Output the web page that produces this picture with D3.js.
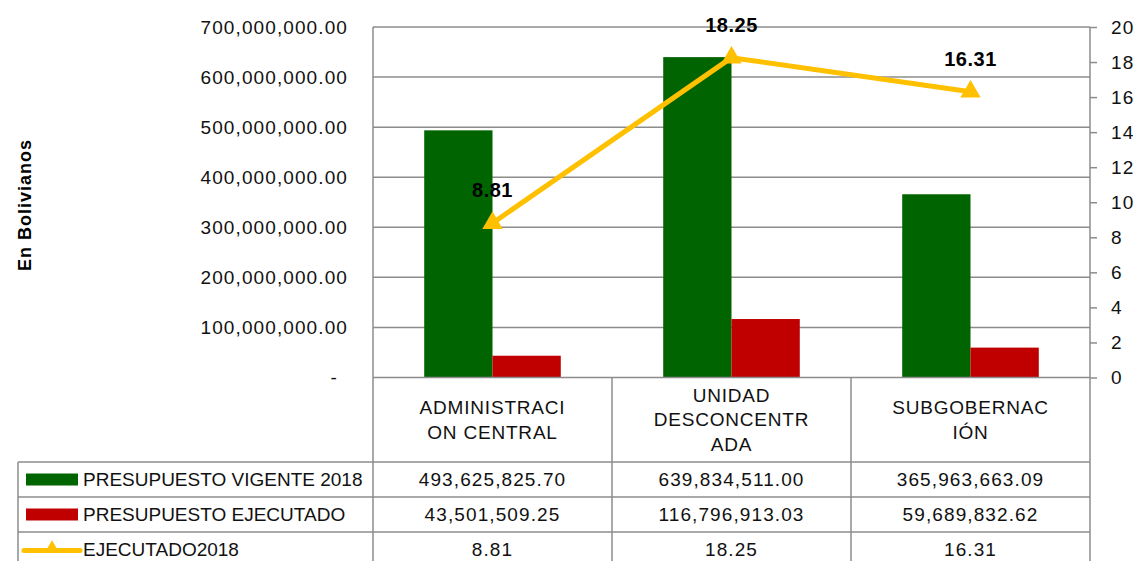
<!DOCTYPE html>
<html><head><meta charset="utf-8">
<script src="https://cdn.jsdelivr.net/npm/d3@7"></script>
<style>
html,body{margin:0;padding:0;background:#fff;}
svg{display:block;font-family:"Liberation Sans",Arial,sans-serif;}
</style></head>
<body><svg id="chart" width="1138" height="561"></svg>
<script>
const categories = [["ADMINISTRACI","ON CENTRAL"],["UNIDAD","DESCONCENTR","ADA"],["SUBGOBERNAC","IÓN"]];
const categoryKeys = ["ADMINISTRACION CENTRAL","UNIDAD DESCONCENTRADA","SUBGOBERNACIÓN"];
const seriesNames = ["PRESUPUESTO VIGENTE 2018","PRESUPUESTO EJECUTADO","EJECUTADO2018"];
const vigente = [493625825.70, 639834511.00, 365963663.09];
const ejecutado = [43501509.25, 116796913.03, 59689832.62];
const porcentaje = [8.81, 18.25, 16.31];
const leftTicks = [0,100000000,200000000,300000000,400000000,500000000,600000000,700000000];
const rightTicks = [0,2,4,6,8,10,12,14,16,18,20];
const colors = ["#006400","#C00000","#FFC000"];

const svg = d3.select("#chart");
const L = 373, R = 1090, T = 27, B = 377.5;
const grid = "#8c8c8c";
const fs = 19;
const numLS = 1.1;

const x0 = d3.scaleBand().domain(categoryKeys).range([L, R]).paddingInner(0).paddingOuter(0);
const x1 = d3.scaleBand().domain(["v","e"]).range([0, x0.bandwidth()]).paddingInner(0).paddingOuter(0.75);
const yL = d3.scaleLinear().domain([0, 700000000]).range([B, T]);
const yR = d3.scaleLinear().domain([0, 20]).range([B, T]);

// gridlines
svg.append("g").selectAll("line").data(leftTicks.slice(1)).join("line")
  .attr("x1", L).attr("x2", R).attr("y1", d => yL(d)).attr("y2", d => yL(d))
  .attr("stroke", grid).attr("stroke-width", 1.5);

// left axis labels
const fmt = d3.format(",.2f");
svg.append("g").selectAll("text").data(leftTicks).join("text")
  .attr("x", d => d === 0 ? 338 : 348).attr("y", d => yL(d))
  .attr("dy", "0.35em").attr("text-anchor", "end")
  .attr("font-size", fs).attr("fill", "#111").attr("letter-spacing", numLS)
  .text(d => d === 0 ? "-" : fmt(d));

// right axis
const rAxis = d3.axisRight(yR).tickValues(rightTicks).tickSize(7).tickPadding(14).tickFormat(d3.format("d"));
const rg = svg.append("g").attr("transform", `translate(${R},0)`).call(rAxis);
rg.select(".domain").attr("stroke", grid).attr("stroke-width", 1.5).attr("d", `M0,${T}V${B}`);
rg.selectAll(".tick line").attr("stroke", grid).attr("stroke-width", 1.5);
rg.selectAll(".tick text").attr("font-size", fs).attr("fill", "#111").attr("letter-spacing", numLS)
  .attr("font-family", "Liberation Sans, Arial, sans-serif");

// bars
const bars = svg.append("g");
categoryKeys.forEach((c, i) => {
  bars.append("rect").attr("x", x0(c) + x1("v")).attr("width", x1.bandwidth())
    .attr("y", yL(vigente[i])).attr("height", yL(0) - yL(vigente[i])).attr("fill", colors[0]);
  bars.append("rect").attr("x", x0(c) + x1("e")).attr("width", x1.bandwidth())
    .attr("y", yL(ejecutado[i])).attr("height", yL(0) - yL(ejecutado[i])).attr("fill", colors[1]);
});

// table grid
const rowTop = 462, rowH = 35;
const tg = svg.append("g").attr("stroke", grid).attr("stroke-width", 1.5);
tg.append("line").attr("x1", L).attr("x2", R).attr("y1", B).attr("y2", B);
for (let k = 0; k < 4; k++) {
  tg.append("line").attr("x1", 18).attr("x2", R).attr("y1", rowTop + k*rowH).attr("y2", rowTop + k*rowH);
}
tg.append("line").attr("x1", L).attr("x2", L).attr("y1", T).attr("y2", 561);
categoryKeys.forEach(c => {
  tg.append("line").attr("x1", x0(c)+x0.bandwidth()).attr("x2", x0(c)+x0.bandwidth()).attr("y1", B).attr("y2", 561);
});
tg.append("line").attr("x1", 18).attr("x2", 18).attr("y1", rowTop).attr("y2", 561);

// category headers
categories.forEach((lines, i) => {
  const cx = x0(categoryKeys[i]) + x0.bandwidth()/2;
  const cy = (B + rowTop)/2;
  const lh = 24.5;
  lines.forEach((t, j) => {
    svg.append("text").attr("x", cx).attr("y", cy + (j - (lines.length-1)/2)*lh)
      .attr("dy", "0.35em").attr("text-anchor", "middle").attr("font-size", fs)
      .attr("letter-spacing", 0.8).attr("fill", "#111").text(t);
  });
});

// table values
const rows = [vigente.map(fmt), ejecutado.map(fmt), porcentaje.map(d => d.toFixed(2))];
rows.forEach((r, k) => {
  const cy = rowTop + k*rowH + rowH/2;
  r.forEach((v, i) => {
    svg.append("text").attr("x", x0(categoryKeys[i]) + x0.bandwidth()/2).attr("y", cy)
      .attr("dy", "0.35em").attr("text-anchor", "middle").attr("font-size", fs)
      .attr("letter-spacing", numLS).attr("fill", "#111").text(v);
  });
  svg.append("text").attr("x", 83).attr("y", cy).attr("dy", "0.35em")
    .attr("font-size", fs).attr("fill", "#111").text(seriesNames[k]);
});
// legend keys
svg.append("rect").attr("x", 26).attr("y", rowTop + rowH/2 - 6).attr("width", 52).attr("height", 12).attr("fill", colors[0]);
svg.append("rect").attr("x", 26).attr("y", rowTop + rowH + rowH/2 - 6).attr("width", 52).attr("height", 12).attr("fill", colors[1]);
const ly = rowTop + 2*rowH + rowH/2 + 1;
svg.append("line").attr("x1", 24).attr("x2", 80).attr("y1", ly).attr("y2", ly)
  .attr("stroke", colors[2]).attr("stroke-width", 5).attr("stroke-linecap", "round");
svg.append("path").attr("d", d3.symbol(d3.symbolTriangle, 90)()).attr("transform", `translate(52,${ly-2})`).attr("fill", colors[2]);

// line series
const pts = categoryKeys.map((c, i) => [x0(c) + x0.bandwidth()/2, yR(porcentaje[i])]);
svg.append("path").attr("d", d3.line()(pts)).attr("fill", "none")
  .attr("stroke", colors[2]).attr("stroke-width", 5).attr("stroke-linejoin", "round");
svg.append("g").selectAll("path").data(pts).join("path")
  .attr("d", d3.symbol(d3.symbolTriangle, 180)())
  .attr("transform", d => `translate(${d[0]},${d[1]})`).attr("fill", colors[2]);
svg.append("g").selectAll("text").data(pts).join("text")
  .attr("x", d => d[0]).attr("y", d => d[1] - 33).attr("dy", "0.35em")
  .attr("text-anchor", "middle").attr("font-size", 20).attr("font-weight", "bold")
  .attr("letter-spacing", 0.5).attr("fill", "#000")
  .text((d, i) => porcentaje[i].toFixed(2));

// y axis title
svg.append("text").attr("transform", "translate(31,205) rotate(-90)")
  .attr("text-anchor", "middle").attr("font-size", 18).attr("font-weight", "bold")
  .attr("letter-spacing", 1).attr("fill", "#000").text("En Bolivianos");
</script></body></html>
